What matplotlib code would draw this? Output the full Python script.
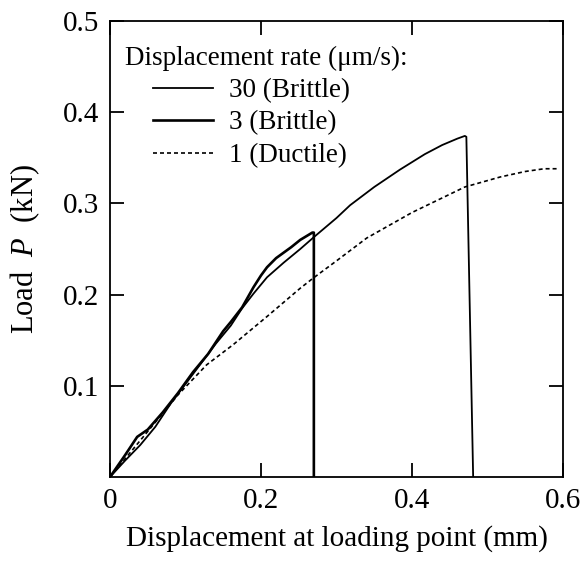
import numpy as np
import matplotlib
matplotlib.use("Agg")
import matplotlib.pyplot as plt

plt.rcParams['font.family'] = ['Liberation Serif', 'DejaVu Serif']
plt.rcParams['mathtext.fontset'] = 'custom'
plt.rcParams['mathtext.rm'] = 'Liberation Serif'
plt.rcParams['mathtext.it'] = 'Liberation Serif:italic'

# displacement (mm) / load (kN)
x_30 = [0, 0.02, 0.04, 0.06, 0.08, 0.10, 0.12, 0.14, 0.16, 0.175, 0.19, 0.208,
        0.23, 0.252, 0.27, 0.30, 0.318, 0.35, 0.384, 0.417, 0.44, 0.46, 0.47, 0.472, 0.481]
y_30 = [0, 0.018, 0.035, 0.055, 0.080, 0.102, 0.124, 0.146, 0.166, 0.185, 0.201, 0.219,
        0.235, 0.250, 0.263, 0.284, 0.298, 0.318, 0.337, 0.354, 0.364, 0.371, 0.374, 0.373, 0.0]

x_3 = [0, 0.02, 0.036, 0.05, 0.07, 0.09, 0.11, 0.13, 0.15, 0.16, 0.175, 0.19, 0.20,
       0.208, 0.22, 0.24, 0.252, 0.262, 0.268, 0.270, 0.270]
y_3 = [0, 0.024, 0.044, 0.052, 0.071, 0.092, 0.115, 0.135, 0.160, 0.170, 0.186, 0.208, 0.221,
       0.230, 0.240, 0.252, 0.260, 0.265, 0.268, 0.268, 0.0]

x_1 = [0, 0.03, 0.06, 0.09, 0.128, 0.163, 0.208, 0.252, 0.269, 0.30, 0.34, 0.40,
       0.47, 0.517, 0.55, 0.575, 0.592]
y_1 = [0, 0.030, 0.060, 0.090, 0.123, 0.145, 0.176, 0.207, 0.218, 0.237, 0.262, 0.290,
       0.318, 0.329, 0.335, 0.338, 0.338]

x_ticks = [0, 0.2, 0.4, 0.6]
x_labels = ['0', '0.2', '0.4', '0.6']
y_ticks = [0.1, 0.2, 0.3, 0.4, 0.5]
y_labels = ['0.1', '0.2', '0.3', '0.4', '0.5']

fig = plt.figure(figsize=(5.88, 5.63), dpi=100)
ax = fig.add_axes([110/588, 1 - 477/563, 453/588, 456/563])

ax.plot(x_30, y_30, color='black', lw=1.3, label='30 (Brittle)')
ax.plot(x_3, y_3, color='black', lw=1.9, label='3 (Brittle)')
ax.plot(x_1, y_1, color='black', lw=1.2, linestyle=(0, (2.4, 1.8)), label='1 (Ductile)')

ax.set_xlim(0, 0.6)
ax.set_ylim(0, 0.5)
ax.set_xticks(x_ticks)
ax.set_xticklabels(x_labels)
ax.set_yticks(y_ticks)
ax.set_yticklabels(y_labels)
ax.tick_params(direction='in', length=10, width=1.3, labelsize=21,
               top=True, right=True, pad=8)
for s in ax.spines.values():
    s.set_linewidth(1.3)

ax.set_xlabel('Displacement at loading point (mm)', fontsize=21, labelpad=8)
ax.set_ylabel(r'Load  $\it{P}$  (kN)', fontsize=22, labelpad=15)

ax.text(15/453, (477-58)/456, 'Displacement rate (\u03bcm/s):', fontsize=19.5,
        transform=ax.transAxes, ha='left', va='center')
ax.legend(loc='upper left', bbox_to_anchor=(43/453, (477-78)/456), frameon=False,
          fontsize=19.5, handlelength=2.2, handletextpad=0.6, labelspacing=0.28,
          borderpad=0, borderaxespad=0)

fig.savefig('out.png', dpi=100)
